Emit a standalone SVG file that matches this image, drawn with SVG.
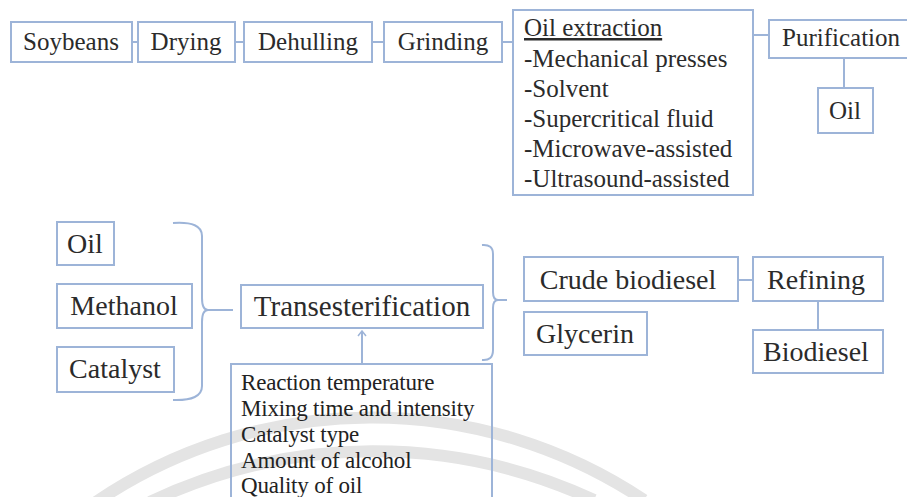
<svg xmlns="http://www.w3.org/2000/svg" width="907" height="497" viewBox="0 0 907 497">
  <style>
    .box { fill: none; stroke: #9db4d8; stroke-width: 2; }
    .ln { fill: none; stroke: #9db4d8; stroke-width: 2; }
    .wm { fill: none; stroke: #e4e4e4; stroke-width: 12; }
    text { font-family: 'Liberation Serif', 'DejaVu Serif', serif; fill: #2b2b2b; }
    .t24 { font-size: 25px; }
    .t26 { font-size: 28px; }
    .t27 { font-size: 29px; }
    .t22 { font-size: 23px; fill: #222; letter-spacing: -0.2px; }
    .c { text-anchor: middle; }
  </style>
  <defs>
    <marker id="arr" viewBox="0 0 10 10" refX="5" refY="1" markerWidth="10" markerHeight="10" markerUnits="userSpaceOnUse" orient="0">
      <path d="M1,6 L5,1 L9,6" fill="none" stroke="#9db4d8" stroke-width="1.5"/>
    </marker>
  </defs>
  <rect width="907" height="497" fill="#ffffff"/>
  <g id="watermark">
    <path class="wm" d="M96,502 A491,491 0 0 1 644,500"/>
    <path class="wm" d="M150,502 A521,521 0 0 1 594,500"/>
  </g>
  <g id="connectors">
    <line class="ln" x1="132" y1="42" x2="138" y2="42"/>
    <line class="ln" x1="235" y1="42" x2="244" y2="42"/>
    <line class="ln" x1="372" y1="42" x2="384" y2="42"/>
    <line class="ln" x1="502" y1="42" x2="513" y2="42"/>
    <line class="ln" x1="753" y1="35" x2="769" y2="35"/>
    <line class="ln" x1="844" y1="58" x2="844" y2="88"/>
    <path class="ln" d="M173,223 Q202,221 202,236 L202,298 Q202,310 208,310 Q202,310 202,322 L202,386 Q202,401 173,400"/>
    <line class="ln" x1="208" y1="310" x2="233" y2="310"/>
    <path class="ln" d="M482,245 Q493,244 493,254 L493,292 Q493,300 498,300 Q493,300 493,308 L493,350 Q493,361 482,360"/>
    <line class="ln" x1="498" y1="300" x2="507" y2="300"/>
    <line class="ln" x1="738" y1="280" x2="753" y2="280"/>
    <line class="ln" x1="818" y1="301" x2="818" y2="330"/>
    <line class="ln" x1="362" y1="364" x2="362" y2="331" stroke-width="1.5" marker-end="url(#arr)"/>
  </g>
  <g id="soybeans"><rect class="box" x="11" y="22" width="121" height="40"/><text class="t24 c" x="71" y="50">Soybeans</text></g>
  <g id="drying"><rect class="box" x="138" y="22" width="97" height="40"/><text class="t24 c" x="186" y="50">Drying</text></g>
  <g id="dehulling"><rect class="box" x="244" y="22" width="128" height="40"/><text class="t24 c" x="308" y="50">Dehulling</text></g>
  <g id="grinding"><rect class="box" x="384" y="22" width="118" height="40"/><text class="t24 c" x="443" y="50">Grinding</text></g>
  <g id="oil-extraction">
    <rect class="box" x="513" y="10" width="240" height="185"/>
    <text class="t24" x="524" y="36" text-decoration="underline">Oil extraction</text>
    <text class="t24" x="524" y="67">-Mechanical presses</text>
    <text class="t24" x="524" y="97">-Solvent</text>
    <text class="t24" x="524" y="127">-Supercritical fluid</text>
    <text class="t24" x="524" y="157">-Microwave-assisted</text>
    <text class="t24" x="524" y="187">-Ultrasound-assisted</text>
  </g>
  <g id="purification"><rect class="box" x="769" y="20" width="150" height="38"/><text class="t24" x="782" y="46">Purification</text></g>
  <g id="oil-top"><rect class="box" x="818" y="88" width="55" height="45"/><text class="t24 c" x="845" y="119">Oil</text></g>
  <g id="oil"><rect class="box" x="57" y="222" width="57" height="43"/><text class="t26 c" x="85" y="253">Oil</text></g>
  <g id="methanol"><rect class="box" x="57" y="284" width="135" height="44"/><text class="t26 c" x="124" y="315">Methanol</text></g>
  <g id="catalyst"><rect class="box" x="57" y="347" width="117" height="45"/><text class="t26 c" x="115" y="378">Catalyst</text></g>
  <g id="transesterification"><rect class="box" x="241" y="285" width="242" height="43"/><text class="t27 c" x="362" y="316">Transesterification</text></g>
  <g id="factors">
    <rect class="box" x="231" y="364" width="261" height="140"/>
    <text class="t22" x="241" y="390">Reaction temperature</text>
    <text class="t22" x="241" y="416">Mixing time and intensity</text>
    <text class="t22" x="241" y="442">Catalyst type</text>
    <text class="t22" x="241" y="468">Amount of alcohol</text>
    <text class="t22" x="241" y="493">Quality of oil</text>
  </g>
  <g id="crude-biodiesel"><rect class="box" x="524" y="257" width="214" height="44"/><text class="t26 c" x="628" y="289">Crude biodiesel</text></g>
  <g id="glycerin"><rect class="box" x="524" y="312" width="123" height="43"/><text class="t26 c" x="585" y="343">Glycerin</text></g>
  <g id="refining"><rect class="box" x="753" y="257" width="130" height="44"/><text class="t26 c" x="816" y="289">Refining</text></g>
  <g id="biodiesel"><rect class="box" x="753" y="330" width="130" height="43"/><text class="t26 c" x="816" y="361">Biodiesel</text></g>
</svg>
